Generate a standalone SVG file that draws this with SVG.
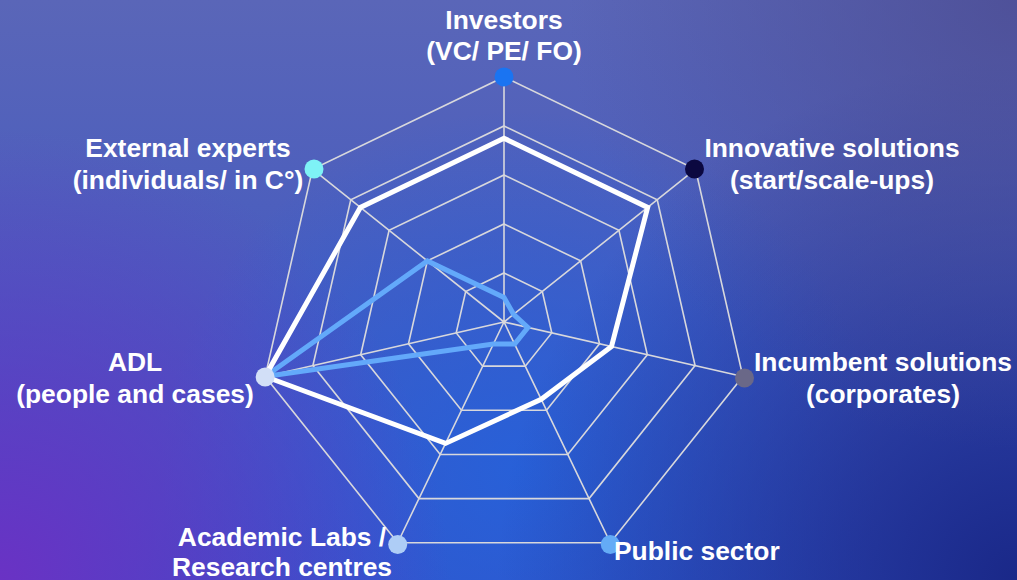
<svg xmlns="http://www.w3.org/2000/svg" width="1017" height="580" viewBox="0 0 1017 580">
<defs>
<linearGradient id="bg" x1="0" y1="0" x2="0" y2="1">
<stop offset="0" stop-color="#5a66b8"/>
<stop offset="1" stop-color="#3552c6"/>
</linearGradient>
<radialGradient id="bl" cx="0" cy="580" r="450" gradientUnits="userSpaceOnUse">
<stop offset="0" stop-color="#6a32c4" stop-opacity="1"/>
<stop offset="1" stop-color="#6a32c4" stop-opacity="0"/>
</radialGradient>
<radialGradient id="br" cx="1017" cy="580" r="520" gradientUnits="userSpaceOnUse">
<stop offset="0" stop-color="#1a2888" stop-opacity="1"/>
<stop offset="1" stop-color="#1a2888" stop-opacity="0"/>
</radialGradient>
<radialGradient id="tr" cx="1017" cy="0" r="450" gradientUnits="userSpaceOnUse">
<stop offset="0" stop-color="#4c4c92" stop-opacity="0.8"/>
<stop offset="1" stop-color="#4c4c92" stop-opacity="0"/>
</radialGradient>
<radialGradient id="cb" cx="520" cy="470" r="360" gradientUnits="userSpaceOnUse">
<stop offset="0" stop-color="#2462dc" stop-opacity="0.85"/>
<stop offset="1" stop-color="#2462dc" stop-opacity="0"/>
</radialGradient>
</defs>
<style>
.grid{fill:none;stroke:#d8d8dc;stroke-width:1.6}
.lbl{font-family:"Liberation Sans",Arial,sans-serif;font-weight:bold;font-size:26.4px;fill:#ffffff;text-anchor:middle}
.white{fill:none;stroke:#ffffff;stroke-width:5;stroke-linejoin:miter}
.blue{fill:none;stroke:#63a9fa;stroke-width:5;stroke-linejoin:miter}
</style>
<rect width="1017" height="580" fill="url(#bg)"/>
<rect width="1017" height="580" fill="url(#cb)"/>
<rect width="1017" height="580" fill="url(#bl)"/>
<rect width="1017" height="580" fill="url(#br)"/>
<rect width="1017" height="580" fill="url(#tr)"/>

<g id="connectors">
<g id="grid">
<polygon class="grid" points="504,77 695.55,169.24 742.86,376.52 610.3,542.74 397.7,542.74 265.14,376.52 312.45,169.24"/>
<polygon class="grid" points="504,126 657.24,199.79 695.09,365.62 589.04,498.59 418.96,498.59 312.91,365.62 350.76,199.79"/>
<polygon class="grid" points="504,175 618.93,230.34 647.32,354.71 567.78,454.44 440.22,454.44 360.68,354.71 389.07,230.34"/>
<polygon class="grid" points="504,224 580.62,260.9 599.54,343.81 546.52,410.3 461.48,410.3 408.46,343.81 427.38,260.9"/>
<polygon class="grid" points="504,273 542.31,291.45 551.77,332.9 525.26,366.15 482.74,366.15 456.23,332.9 465.69,291.45"/>
<path class="grid" d="M504,322L504,77M504,322L695.55,169.24M504,322L742.86,376.52M504,322L610.3,542.74M504,322L397.7,542.74M504,322L265.14,376.52M504,322L312.45,169.24"/>
</g>
<polygon id="series-blue" class="blue" points="504,297.5 513.58,314.36 527.89,327.45 514.63,344.07 493.37,344.07 265.14,376.52 427.38,260.9"/>
<polygon id="series-white" class="white" points="504,138.25 647.66,207.43 611.49,346.53 541.21,399.26 445.53,443.41 265.14,376.52 360.34,207.43"/>
</g>

<g id="node-investors">
<circle cx="504" cy="77" r="9.5" fill="#1a74f2"/>
<text class="lbl" x="504" y="29">Investors</text>
<text class="lbl" x="504" y="60">(VC/ PE/ FO)</text>
</g>
<g id="node-innovative">
<circle cx="694.5" cy="169" r="9.5" fill="#0b0840"/>
<text class="lbl" x="832" y="157">Innovative solutions</text>
<text class="lbl" x="832" y="189">(start/scale-ups)</text>
</g>
<g id="node-incumbent">
<circle cx="744.5" cy="378" r="9.5" fill="#6a6888"/>
<text class="lbl" x="883" y="371">Incumbent solutions</text>
<text class="lbl" x="883" y="403">(corporates)</text>
</g>
<g id="node-public">
<circle cx="610.3" cy="544.5" r="9.5" fill="#64abf6"/>
<text class="lbl" x="614" y="560" style="text-anchor:start">Public sector</text>
</g>
<g id="node-academic">
<circle cx="397.7" cy="544.5" r="9.5" fill="#aecdf6"/>
<text class="lbl" x="282" y="546">Academic Labs /</text>
<text class="lbl" x="282" y="576">Research centres</text>
</g>
<g id="node-adl">
<circle cx="265.14" cy="377" r="9.5" fill="#d2dff7"/>
<text class="lbl" x="135" y="371">ADL</text>
<text class="lbl" x="135" y="403">(people and cases)</text>
</g>
<g id="node-external">
<circle cx="314" cy="169" r="9.5" fill="#7ef2f6"/>
<text class="lbl" x="188" y="157">External experts</text>
<text class="lbl" x="188" y="189">(individuals/ in C°)</text>
</g>
</svg>
